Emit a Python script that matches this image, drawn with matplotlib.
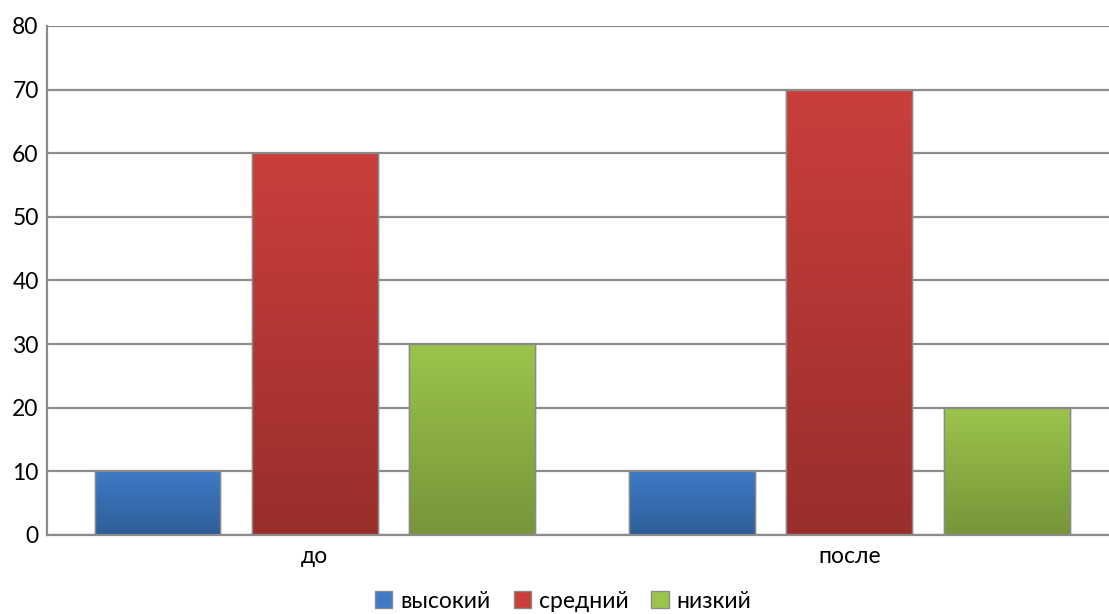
import numpy as np
import matplotlib
matplotlib.use("Agg")
import matplotlib.pyplot as plt
from matplotlib.colors import LinearSegmentedColormap

plt.rcParams['font.family'] = ['Lato', 'DejaVu Sans']

categories = ['до', 'после']
series = ['высокий', 'средний', 'низкий']
values = {
    'высокий': [10, 10],
    'средний': [60, 70],
    'низкий': [30, 20],
}
yticks = [0, 10, 20, 30, 40, 50, 60, 70, 80]

# верх / низ градиента
grad = {
    'высокий': ('#3d7ac6', '#2f5e98'),
    'средний': ('#ca3f3c', '#992e2c'),
    'низкий': ('#9cc44b', '#76953a'),
}

fig = plt.figure(figsize=(11.09, 6.14), dpi=100)
# ось чуть выходит за правый край, как в исходнике
ax = fig.add_axes([0.0424, 0.1287, 0.9648, 0.829])

x = np.arange(len(categories))
width = 0.2355
step = 0.2935
grid_c = '#8c8c8c'

ax.set_ylim(0, 80)
ax.set_xlim(-0.5, len(categories) - 0.5)
ax.set_yticks(yticks)
ax.yaxis.grid(True, color=grid_c, linewidth=1.6)
ax.set_axisbelow(True)

handles = []
for i, name in enumerate(series):
    top, bot = grad[name]
    cmap = LinearSegmentedColormap.from_list(name, [bot, top])
    bars = ax.bar(x + (i - 1) * step, values[name], width,
                  color=top, edgecolor='#8a8a8a', linewidth=1.0, zorder=2)
    for b in bars:
        x0, y0 = b.get_x(), b.get_y()
        w, h = b.get_width(), b.get_height()
        g = np.linspace(0, 1, 256).reshape(-1, 1)
        im = ax.imshow(g, cmap=cmap, origin='lower', aspect='auto',
                       extent=(x0, x0 + w, y0, y0 + h), zorder=2.5,
                       interpolation='bilinear')
        im.set_clip_path(b)
        # контур поверх градиента
        ax.bar(x0 + w / 2, h, w, bottom=y0, fill=False,
               edgecolor='#8a8a8a', linewidth=1.0, zorder=3)
    handles.append(bars)

ax.set_xlim(-0.5, len(categories) - 0.5)
ax.set_ylim(0, 80)
ax.set_xticks(x)
ax.set_xticklabels(categories)
ax.tick_params(axis='both', length=0, labelsize=16.5, colors='black', pad=6)
ax.tick_params(axis='x', pad=8)

for s in ['top', 'right']:
    ax.spines[s].set_visible(False)
for s in ['left', 'bottom']:
    ax.spines[s].set_color(grid_c)
    ax.spines[s].set_linewidth(1.6)

leg = fig.legend(handles, series, loc='lower center', ncol=3, frameon=False,
                 fontsize=16.5, bbox_to_anchor=(0.508, -0.03), handlelength=0.75,
                 handleheight=0.75, handletextpad=0.35, columnspacing=1.0)
for p in leg.get_patches():
    p.set_edgecolor('#8a8a8a')

fig.savefig('out.png', dpi=100)
